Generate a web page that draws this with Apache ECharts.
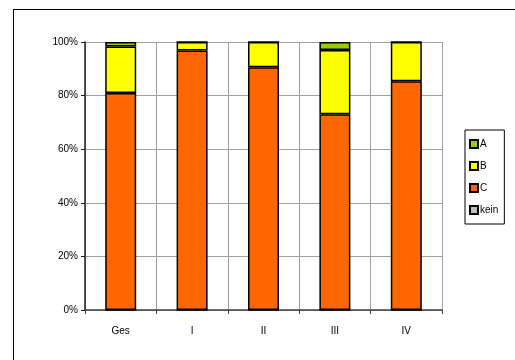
<!DOCTYPE html>
<html>
<head>
<meta charset="utf-8">
<script src="https://cdn.jsdelivr.net/npm/echarts@6/dist/echarts.min.js"></script>
<style>
    html, body {
        margin: 0;
        padding: 0;
        background: #fff;
    }
    .frame {
        position: absolute;
        left: 13px;
        top: 9px;
        width: 600px;
        height: 400px;
        border: 1px solid #000;
        box-sizing: border-box;
    }
    #chart {
        position: absolute;
        left: 0;
        top: 0;
        width: 515px;
        height: 360px;
    }
</style>
</head>
<body>
<div class="frame"></div>
<div id="chart"></div>
<script>
// Kategorien und Anteile (%)
const categories = ['Ges', 'I', 'II', 'III', 'IV'];
const valuesKein = [0, 0, 0, 0, 0];
const valuesC = [81, 96.8, 90.6, 73, 85.4];
const valuesB = [17.3, 3.2, 9.4, 24, 14.6];
const valuesA = [1.7, 0, 0, 3, 0];
const yTicks = [0, 20, 40, 60, 80, 100];

const font = 'Liberation Sans, Arial, sans-serif';

function barSeries(name, color, data) {
    return {
        name: name,
        type: 'bar',
        stack: 'total',
        barWidth: 31,
        itemStyle: {
            color: color,
            borderColor: '#000',
            borderWidth: 1.5
        },
        data: data
    };
}

let chart = echarts.init(document.getElementById('chart'), null, { renderer: 'canvas' });
let option = {
    animation: false,
    textStyle: { fontFamily: font },
    grid: {
        left: 85,
        top: 42,
        width: 357,
        height: 268,
        outerBoundsMode: 'none'
    },
    legend: {
        orient: 'vertical',
        left: 465,
        top: 130,
        data: ['A', 'B', 'C', 'kein'],
        icon: 'rect',
        itemWidth: 8,
        itemHeight: 8,
        itemGap: 12,
        padding: [9, 6, 9, 4],
        borderColor: '#000',
        borderWidth: 1,
        textStyle: { fontFamily: font, fontSize: 10, color: '#000', padding: [0, 0, 0, -3] }
    },
    xAxis: {
        type: 'category',
        data: categories,
        axisLine: { lineStyle: { color: '#404040', width: 1.5 } },
        axisTick: { show: true, length: 4, lineStyle: { color: '#404040' } },
        axisLabel: { fontFamily: font, fontSize: 10, color: '#000', margin: 16 },
        splitLine: { show: true, lineStyle: { color: '#a0a0a0', width: 1 } }
    },
    yAxis: {
        type: 'value',
        min: yTicks[0],
        max: yTicks[yTicks.length - 1],
        interval: 20,
        axisLine: { show: true, lineStyle: { color: '#202020', width: 1.5 } },
        axisTick: { show: true, length: 4, lineStyle: { color: '#202020' } },
        axisLabel: { fontFamily: font, fontSize: 10, color: '#000', margin: 7, formatter: '{value}%' },
        splitLine: { show: true, lineStyle: { color: '#a0a0a0', width: 1 } }
    },
    series: [
        barSeries('kein', '#c0c0c0', valuesKein),
        barSeries('C', '#ff6600', valuesC),
        barSeries('B', '#ffff00', valuesB),
        barSeries('A', '#99cc00', valuesA)
    ]
};
chart.setOption(option);
</script>
</body>
</html>
